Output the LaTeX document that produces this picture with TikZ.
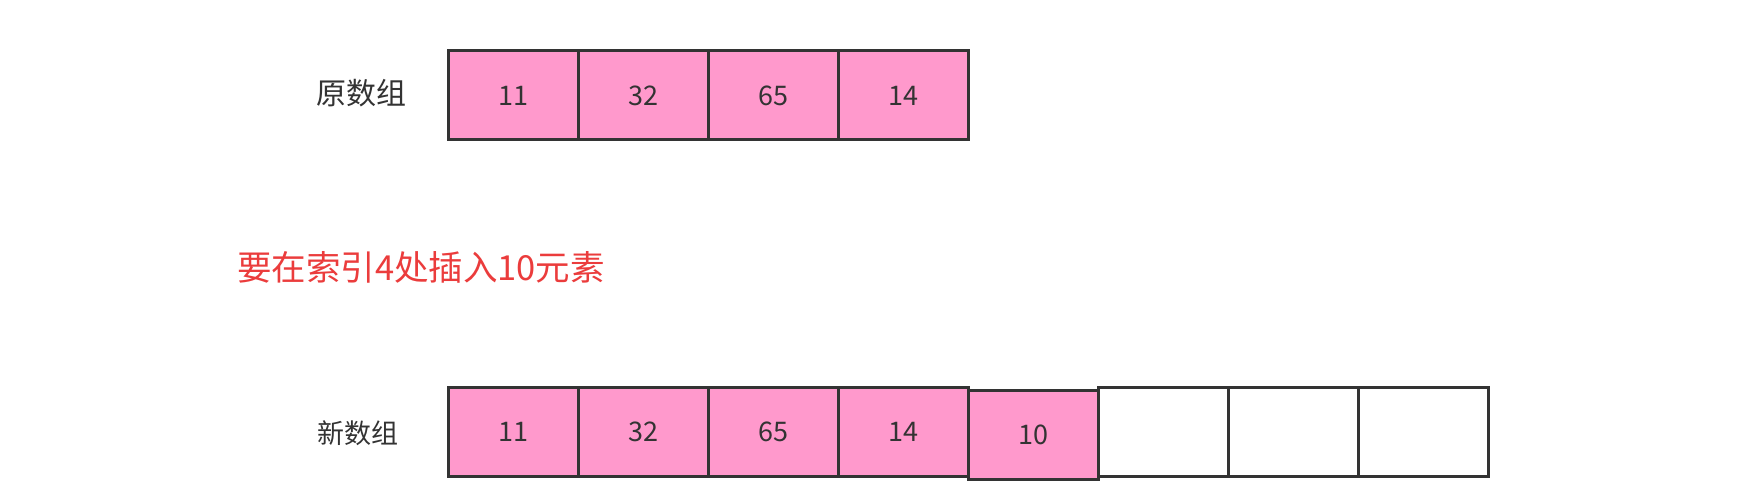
\documentclass[tikz,border=0pt]{standalone}
\usepackage{fontspec}
\usepackage{tikz}
\usetikzlibrary{positioning}
\newfontfamily\cjk{Noto Sans CJK SC}
\definecolor{cellpink}{HTML}{FF99CC}
\definecolor{linegray}{HTML}{333333}
\definecolor{notered}{HTML}{EB3C3C}
\tikzset{
  cell/.style={draw=linegray, line width=3pt, fill=cellpink, outer sep=0pt, inner sep=0pt,
    minimum width=130pt, minimum height=89pt, text=linegray, font=\cjk\fontsize{27}{31}\selectfont},
  emptycell/.style={cell, fill=white},
  rowlabel/.style={text=linegray, font=\cjk\fontsize{30}{35}\selectfont}
}

\begin{document}
\begin{tikzpicture}[x=1pt, y=-1pt]
\useasboundingbox[fill=white] (0,0) rectangle (1744,502);

% Original array
\node[rowlabel] (oldlabel) at (361,93) {原数组};
\node[cell] (old1) at (513,95.5) {11};
\node[cell, right=0pt of old1] (old2) {32};
\node[cell, right=0pt of old2] (old3) {65};
\node[cell, right=0pt of old3] (old4) {14};

% Insertion note
\node[text=notered, font=\cjk\fontsize{34.5}{40}\selectfont] (note) at (421,267) {要在索引4处插入10元素};

% New array
\node[rowlabel, font=\cjk\fontsize{27}{31}\selectfont] (newlabel) at (358,433) {新数组};
\node[cell] (new1) at (513,431.5) {11};
\node[cell, right=0pt of new1] (new2) {32};
\node[cell, right=0pt of new2] (new3) {65};
\node[cell, right=0pt of new3] (new4) {14};
\node[cell, right=0pt of new4, yshift=-3pt] (new5) {10};
\node[emptycell, right=130pt of new4] (new6) {};
\node[emptycell, right=0pt of new6] (new7) {};
\node[emptycell, right=0pt of new7] (new8) {};
\end{tikzpicture}
\end{document}
